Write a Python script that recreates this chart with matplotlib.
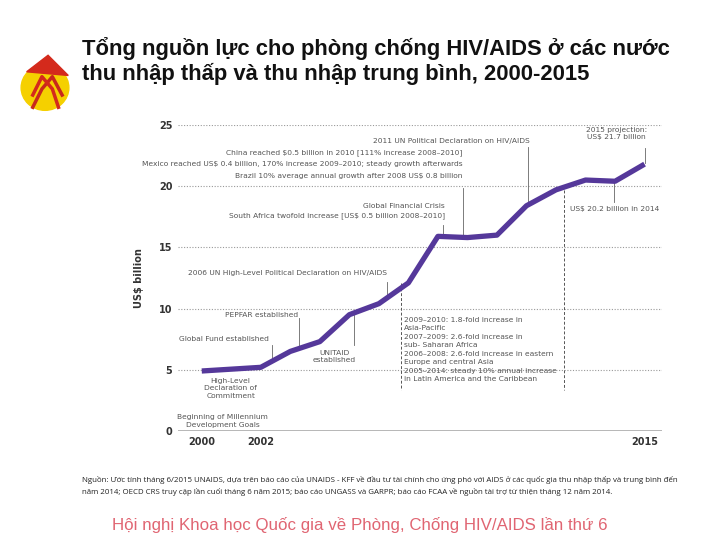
import numpy as np
import matplotlib
matplotlib.use("Agg")
import matplotlib.pyplot as plt
from matplotlib.patches import Ellipse, Polygon

# Dữ liệu (tỷ USD)
years = [2000, 2002, 2003, 2004, 2005, 2006, 2007, 2008,
         2009, 2010, 2011, 2012, 2013, 2014, 2015]
funding = [4.9, 5.2, 6.5, 7.3, 9.5, 10.4, 12.1, 15.9,
           15.8, 16.0, 18.4, 19.7, 20.5, 20.4, 21.8]

yticks = [0, 5, 10, 15, 20, 25]
xticks = [2000, 2002, 2015]

title = ("Tổng nguồn lực cho phòng chống HIV/AIDS ở các nước\n"
         "thu nhập thấp và thu nhập trung bình, 2000-2015")
source = ("Nguồn: Ước tính tháng 6/2015 UNAIDS, dựa trên báo cáo của UNAIDS - KFF về đầu tư tài chính cho ứng phó với AIDS ở các quốc gia thu nhập thấp và trung bình đến\n"
          "năm 2014; OECD CRS truy cập lần cuối tháng 6 năm 2015; báo cáo UNGASS và GARPR; báo cáo FCAA về nguồn tài trợ từ thiện tháng 12 năm 2014.")
footer = "Hội nghị Khoa học Quốc gia về Phòng, Chống HIV/AIDS lần thứ 6"

# (text, x, y, ha) chú thích trên biểu đồ
notes = [
    ("2011 UN Political Declaration on HIV/AIDS", 2011.1, 23.7, "right"),
    ("China reached $0.5 billion in 2010 [111% increase 2008–2010]", 2008.84, 22.7, "right"),
    ("Mexico reached US$ 0.4 billion, 170% increase 2009–2010; steady growth afterwards", 2008.84, 21.8, "right"),
    ("Brazil 10% average annual growth after 2008 US$ 0.8 billion", 2008.84, 20.85, "right"),
    ("Global Financial Crisis", 2008.23, 18.4, "right"),
    ("South Africa twofold increase [US$ 0.5 billion 2008–2010]", 2008.23, 17.6, "right"),
    ("2006 UN High-Level Political Declaration on HIV/AIDS", 2002.9, 12.9, "center"),
    ("PEPFAR established", 2002.03, 9.5, "center"),
    ("Global Fund established", 2000.76, 7.5, "center"),
    ("UNITAID\nestablished", 2004.5, 6.1, "center"),
    ("High-Level\nDeclaration of\nCommitment", 2000.98, 3.5, "center"),
    ("Beginning of Millennium\nDevelopment Goals", 2000.7, 0.8, "center"),
    ("2015 projection:\nUS$ 21.7 billion", 2014.05, 24.3, "center"),
    ("US$ 20.2 billion in 2014", 2013.98, 18.1, "center"),
]

# (x, y_start, y_end) đường dẫn chú thích
leaders = [
    (2011.04, 23.2, 18.5),
    (2008.84, 19.85, 15.85),
    (2008.16, 16.8, 15.9),
    (2006.27, 12.2, 11.2),
    (2003.28, 9.2, 6.9),
    (2002.37, 7.0, 6.0),
    (2005.15, 9.5, 7.0),
    (2015.03, 23.1, 21.9),
    (2013.95, 20.3, 18.7),
]

regional = ("2009–2010: 1.8-fold increase in\nAsia-Pacific\n"
            "2007–2009: 2.6-fold increase in\nsub- Saharan Africa\n"
            "2006–2008: 2.6-fold increase in eastern\nEurope and central Asia\n"
            "2005–2014: steady 10% annual increase\nin Latin America and the Caribbean")

fig = plt.figure(figsize=(7.2, 5.4), dpi=100)
ax = fig.add_axes([0.247, 0.2019, 0.672, 0.5667])

ax.set_xlim(1999.19, 2015.58)
ax.set_ylim(0, 25)
for yv in yticks[1:]:
    ax.axhline(yv, color="#999999", lw=0.8, ls=(0, (1, 1.5)), zorder=1)
ax.axhline(0, color="#aaaaaa", lw=1.2, zorder=1)

ax.plot(years, funding, color="#55389a", lw=3.8, solid_capstyle="butt",
        solid_joinstyle="round", zorder=5, clip_on=False)

for s in ax.spines.values():
    s.set_visible(False)
ax.set_yticks(yticks)
ax.set_xticks(xticks)
ax.tick_params(length=0, labelsize=7, labelcolor="#333333", pad=4)
for lbl in ax.get_xticklabels() + ax.get_yticklabels():
    lbl.set_fontweight("bold")
ax.set_ylabel("US$ billion", fontsize=7, fontweight="bold", color="#333333", labelpad=11)

for txt, x, y, ha in notes:
    ax.text(x, y, txt, ha=ha, va="center", fontsize=5.4, color="#555555",
            linespacing=1.3, zorder=6)
for x, y0, y1 in leaders:
    ax.plot([x, x], [y0, y1], color="#666666", lw=0.6, zorder=4)

ax.plot([2006.74, 2006.74], [12.1, 3.35], color="#555555", lw=0.7, ls=(0, (3, 2)), zorder=3)
ax.plot([2012.26, 2012.26], [19.7, 3.35], color="#555555", lw=0.7, ls=(0, (3, 2)), zorder=3)
ax.text(2006.84, 9.35, regional, ha="left", va="top", fontsize=5.4, color="#555555",
        linespacing=1.5, zorder=6)

fig.text(0.114, 0.932, title, ha="left", va="top", fontsize=15.8, fontweight="bold",
         family="Liberation Sans", color="#111111", linespacing=1.2)
fig.text(0.114, 0.1, source, ha="left", va="center", fontsize=5.65,
         family="Open Sans", color="#222222", linespacing=1.5)
fig.text(0.5, 0.027, footer, ha="center", va="center", fontsize=12.2,
         family="Liberation Sans", color="#e06572")

# logo
lg = fig.add_axes([0.02, 0.79, 0.085, 0.1133])
lg.set_xlim(0, 1)
lg.set_ylim(0, 1)
lg.axis("off")
lg.add_patch(Ellipse((0.5, 0.42), 0.78, 0.74, color="#f5d000"))
lg.add_patch(Polygon([[0.2, 0.68], [0.55, 0.95], [0.88, 0.62]], color="#d42a1c"))
lg.plot([0.3, 0.45, 0.62, 0.78], [0.1, 0.4, 0.6, 0.3], color="#c8281c", lw=2.5)
lg.plot([0.3, 0.45, 0.62, 0.72], [0.3, 0.6, 0.4, 0.1], color="#d42a1c", lw=2.5)

fig.savefig("out.png", dpi=100)
